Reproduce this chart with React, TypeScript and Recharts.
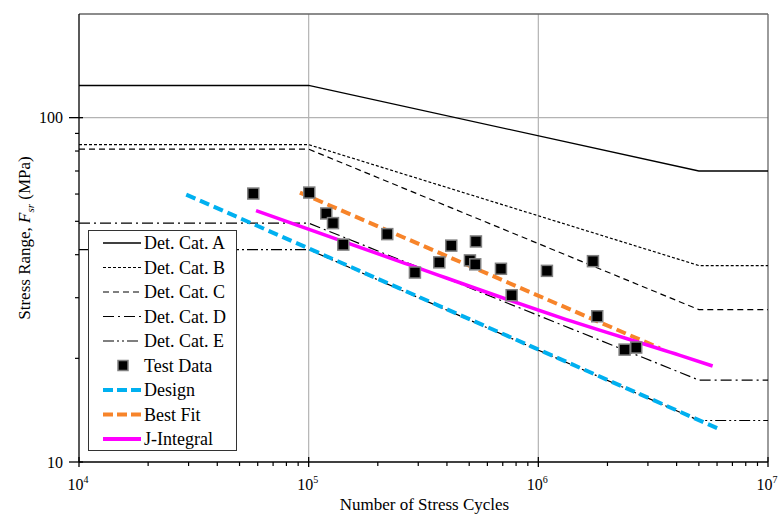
import { ComposedChart, Line, Scatter, XAxis, YAxis, CartesianGrid, ReferenceLine, Legend } from 'recharts';

// AASHTO detail category curves: knee points share the same cycle counts
const catCycles = [1e4, 1e5, 5e6, 1e7];
const catA = [124, 124, 70, 70];
const catB = [83.5, 83.5, 37.2, 37.2];
const catC = [81, 81, 27.7, 27.7];
const catD = [49.4, 49.4, 17.3, 17.3];
const catE = [41.4, 41.4, 13.2, 13.2];

const testCycles = [57400, 100600, 119300, 127600, 141500, 219900, 290200, 370400, 417700, 535000, 503700, 531200, 687500, 765300, 1090000, 1729000, 1805000, 2375000, 2668000];
const testStress = [60.2, 60.6, 52.7, 49.4, 42.8, 45.9, 35.5, 38.0, 42.5, 43.7, 38.5, 37.5, 36.4, 30.5, 35.9, 38.3, 26.5, 21.2, 21.5];

const designCycles = [29300, 6070000];
const designStress = [59.8, 12.5];
const bestFitCycles = [91600, 3380000];
const bestFitStress = [60.6, 21.4];
const jCycles = [59000, 250000, 1240000, 4140000, 5740000];
const jStress = [53.7, 38.2, 26.3, 20.4, 19.0];

const xTicks = [1e4, 2e4, 3e4, 4e4, 5e4, 6e4, 7e4, 8e4, 9e4, 1e5, 2e5, 3e5, 4e5, 5e5, 6e5, 7e5, 8e5, 9e5, 1e6, 2e6, 3e6, 4e6, 5e6, 6e6, 7e6, 8e6, 9e6, 1e7];
const yTicks = [10, 20, 30, 40, 50, 60, 70, 80, 90, 100];

const FONT = '"Liberation Serif", "Times New Roman", serif';

const pts = (xs: number[], ys: number[]) => xs.map((x, i) => ({ x, y: ys[i] }));

const series = [
  { name: 'Det. Cat. A', stroke: '#000', width: 1.3, dash: undefined, ys: catA },
  { name: 'Det. Cat. B', stroke: '#000', width: 1.2, dash: '3 2', ys: catB },
  { name: 'Det. Cat. C', stroke: '#000', width: 1.2, dash: '6 4', ys: catC },
  { name: 'Det. Cat. D', stroke: '#000', width: 1.2, dash: '11 4 2 4', ys: catD },
  { name: 'Det. Cat. E', stroke: '#000', width: 1.2, dash: '11 3 2 3 2 3', ys: catE },
];

const legendRows = [
  ...series.map(s => ({ name: s.name, stroke: s.stroke, width: s.width, dash: s.dash, square: false })),
  { name: 'Test Data', stroke: '#000', width: 0, dash: undefined, square: true },
  { name: 'Design', stroke: '#00b0f0', width: 4, dash: '10 4', square: false },
  { name: 'Best Fit', stroke: '#f7842a', width: 4, dash: '10 4', square: false },
  { name: 'J-Integral', stroke: '#ff00ff', width: 4, dash: undefined, square: false },
];

const isMajor = (v: number) => Math.abs(Math.log10(v) - Math.round(Math.log10(v))) < 1e-9;

function XTick(props: any) {
  const { x, y, payload } = props;
  const v = payload.value;
  if (!isMajor(v)) return <line x1={x} x2={x} y1={y} y2={y + 4} stroke="#000" strokeWidth={1.2} />;
  return (
    <g>
      <line x1={x} x2={x} y1={y - 5} y2={y + 5} stroke="#000" strokeWidth={1.3} />
      <text x={x - 1} y={y + 28} textAnchor="middle" fontFamily={FONT} fontSize={16} fill="#000">
        10<tspan dy={-7} fontSize={10}>{Math.round(Math.log10(v))}</tspan>
      </text>
    </g>
  );
}

function YTick(props: any) {
  const { x, y, payload } = props;
  const v = payload.value;
  if (!isMajor(v)) return <line x1={x - 4} x2={x} y1={y} y2={y} stroke="#000" strokeWidth={1.2} />;
  return (
    <g>
      <line x1={x - 10} x2={x + 4} y1={y} y2={y} stroke="#000" strokeWidth={1.3} />
      <text x={x - 16} y={y + 5.5} textAnchor="end" fontFamily={FONT} fontSize={16} fill="#000">{v}</text>
    </g>
  );
}

function YTitle(props: any) {
  const vb = props.viewBox || { x: 19, y: 14, width: 60, height: 448 };
  const cx = vb.x + 11;
  const cy = vb.y + vb.height / 2;
  return (
    <text transform={`translate(${cx},${cy}) rotate(-90)`} textAnchor="middle" fontFamily={FONT} fontSize={17} fill="#000">
      Stress Range, <tspan fontStyle="italic">F</tspan>
      <tspan fontStyle="italic" fontSize={11} dy={4}>sr</tspan>
      <tspan dy={-4}> (MPa)</tspan>
    </text>
  );
}

function XTitle(props: any) {
  const vb = props.viewBox || { x: 79, y: 462, width: 689, height: 54 };
  return (
    <text x={vb.x + vb.width / 2 + 1} y={vb.y + 48} textAnchor="middle" fontFamily={FONT} fontSize={17} fill="#000">
      Number of Stress Cycles
    </text>
  );
}

function Square(props: any) {
  const { cx, cy } = props;
  return <rect x={cx - 5.5} y={cy - 5.5} width={11} height={11} fill="#000" stroke="#808080" strokeWidth={1.5} />;
}

function LegendBox() {
  const rowH = 24.5;
  return (
    <div style={{ width: 147, height: 219, background: '#fff', border: '1.5px solid #333' }}>
      <svg width={147} height={219}>
        {legendRows.map((r, i) => {
          const cy = 12 + i * rowH;
          return (
            <g key={r.name}>
              {r.square
                ? <rect x={29} y={cy - 5} width={10} height={10} fill="#000" stroke="#808080" strokeWidth={1.5} />
                : <line x1={14} x2={52} y1={cy} y2={cy} stroke={r.stroke} strokeWidth={r.width} strokeDasharray={r.dash} />}
              <text x={55} y={cy + 6} fontFamily={FONT} fontSize={18} fill="#000">{r.name}</text>
            </g>
          );
        })}
      </svg>
    </div>
  );
}

export default function App() {
  return (
    <div style={{ position: 'absolute', left: 0, top: 0, background: '#fff' }}>
      <ComposedChart width={784} height={516} margin={{ top: 14, right: 16, left: 19, bottom: 0 }}>
        <CartesianGrid verticalValues={[1e5, 1e6]} horizontalValues={[100]} stroke="#b3b3b3" strokeWidth={1.2} />
        <ReferenceLine y={200} stroke="#666" strokeWidth={1.3} />
        <ReferenceLine x={1e7} stroke="#666" strokeWidth={1.3} />
        <XAxis
          dataKey="x"
          type="number"
          scale="log"
          domain={[1e4, 1e7]}
          allowDataOverflow
          ticks={xTicks}
          interval={0}
          tick={<XTick />}
          tickLine={false}
          tickSize={0}
          tickMargin={0}
          height={54}
          axisLine={{ stroke: '#000', strokeWidth: 1.3 }}
          label={<XTitle />}
        />
        <YAxis
          type="number"
          scale="log"
          domain={[10, 200]}
          allowDataOverflow
          ticks={yTicks}
          interval={0}
          tick={<YTick />}
          tickLine={false}
          tickSize={0}
          tickMargin={0}
          width={60}
          axisLine={{ stroke: '#000', strokeWidth: 1.3 }}
          label={<YTitle />}
        />
        {series.map(s => (
          <Line
            key={s.name}
            name={s.name}
            data={pts(catCycles, s.ys)}
            dataKey="y"
            type="linear"
            stroke={s.stroke}
            strokeWidth={s.width}
            strokeDasharray={s.dash}
            dot={false}
            isAnimationActive={false}
          />
        ))}
        <Line name="Design" data={pts(designCycles, designStress)} dataKey="y" type="linear" stroke="#00b0f0" strokeWidth={4} strokeDasharray="10 5" dot={false} isAnimationActive={false} />
        <Line name="Best Fit" data={pts(bestFitCycles, bestFitStress)} dataKey="y" type="linear" stroke="#f7842a" strokeWidth={4} strokeDasharray="10 5" dot={false} isAnimationActive={false} />
        <Line name="J-Integral" data={pts(jCycles, jStress)} dataKey="y" type="monotone" stroke="#ff00ff" strokeWidth={3.5} dot={false} isAnimationActive={false} />
        <Scatter name="Test Data" data={pts(testCycles, testStress)} dataKey="y" shape={<Square />} isAnimationActive={false} />
        <Legend
          layout="vertical"
          align="center"
          verticalAlign="middle"
          content={<LegendBox />}
          wrapperStyle={{ left: 88, top: 230, width: 150 }}
        />
      </ComposedChart>
    </div>
  );
}
